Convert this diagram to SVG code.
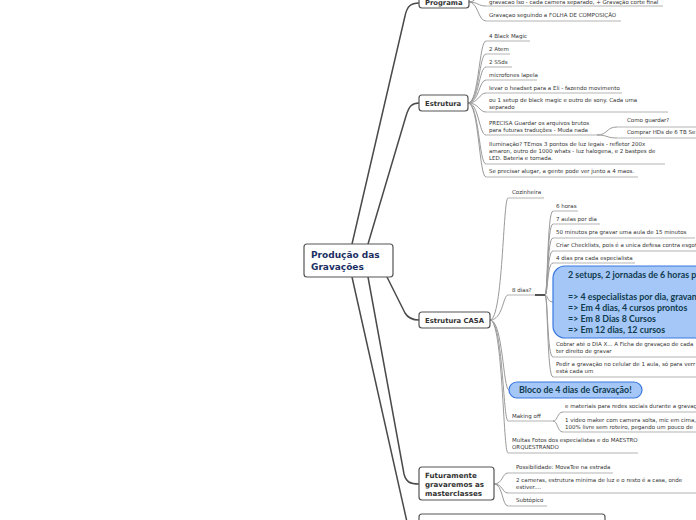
<svg xmlns="http://www.w3.org/2000/svg" width="696" height="520" viewBox="0 0 696 520">
<style>
.bg{fill:#ffffff}
.main{fill:none;stroke:#4a4a4a;stroke-width:1.5}
.fan{fill:none;stroke:#9a9a9a;stroke-width:1}
.ul{fill:none;stroke:#b4b4b4;stroke-width:1.2}
.box{fill:#ffffff;stroke:#555555;stroke-width:1.2}
.blue{fill:#a5c7f7;stroke:#3a78e0;stroke-width:1.2}
.t{font-family:"DejaVu Sans",Verdana,sans-serif;font-size:5.5px;fill:#333333}
.h{font-family:"DejaVu Sans",Verdana,sans-serif;font-size:6.8px;font-weight:bold;fill:#333333}
.c{font-family:"DejaVu Sans",Verdana,sans-serif;font-size:9px;font-weight:bold;fill:#1b2f63}
.b{font-family:Lato,"Open Sans",sans-serif;font-size:8.85px;font-weight:bold;fill:#0e3b4d}
</style>
<rect class="bg" x="0" y="0" width="696" height="520"/>
<g id="connectors">
<path class="main" d="M352,244 L405,16 C407,6 411,3 419,3"/>
<path class="main" d="M368,244 L406,116 C409,106 412,103 419,103"/>
<path class="main" d="M387,277 L405,313 C408,318 412,320 419,320"/>
<path class="main" d="M368,277 L404,474 C406,482 410,484 419,484"/>
<path class="main" d="M352,277 L407,522"/>
<path class="fan" d="M469,2 C478,2 478,-10 486,-10"/>
<path class="fan" d="M469,2 C478,2 478,6 486,6"/>
<path class="fan" d="M469,2 C478,2 478,21 486,21"/>
<path class="fan" d="M468,103 C479,103 479,41 486,41"/>
<path class="fan" d="M468,103 C479,103 479,54 486,54"/>
<path class="fan" d="M468,103 C479,103 479,67 486,67"/>
<path class="fan" d="M468,103 C479,103 479,80 486,80"/>
<path class="fan" d="M468,103 C479,103 479,93 486,93"/>
<path class="fan" d="M468,103 C479,103 479,112 486,112"/>
<path class="fan" d="M468,103 C479,103 479,135 486,135"/>
<path class="fan" d="M468,103 C479,103 479,164 486,164"/>
<path class="fan" d="M468,103 C479,103 479,177 486,177"/>
<path class="fan" d="M597,135 C608,135 606,127 617,127"/>
<path class="fan" d="M597,135 C608,135 606,138 617,138"/>
<path class="fan" d="M490,320 C503,320 503,198 508,198"/>
<path class="fan" d="M490,320 C503,320 503,295 508,295"/>
<path class="fan" d="M490,320 C503,320 503,390 509,390"/>
<path class="fan" d="M490,320 C503,320 503,421 508,421"/>
<path class="fan" d="M490,320 C503,320 503,453 508,453"/>
<path class="fan" d="M545,295 C548,295 547,211 553,211"/>
<path class="fan" d="M545,295 C548,295 547,224 553,224"/>
<path class="fan" d="M545,295 C548,295 547,238 553,238"/>
<path class="fan" d="M545,295 C548,295 547,251 553,251"/>
<path class="fan" d="M545,295 C548,295 547,263 553,263"/>
<path class="fan" d="M545,295 C548,295 547,302 553,302"/>
<path class="fan" d="M545,295 C548,295 547,357 553,357"/>
<path class="fan" d="M545,295 C548,295 547,377 553,377"/>
<path class="fan" d="M553,421 C558,421 557,412 563,412"/>
<path class="fan" d="M553,421 C558,421 557,432 563,432"/>
<path class="fan" d="M494,484 C503,484 502,473 508,473"/>
<path class="fan" d="M494,484 C503,484 502,493 508,493"/>
<path class="fan" d="M494,484 C503,484 502,506 508,506"/>
</g>
<g id="center">
<rect class="box" x="304" y="244" width="89" height="33" rx="3"/>
<text class="c" x="311" y="258">Produção das</text>
<text class="c" x="311" y="270">Gravações</text>
</g>
<g id="programa">
<rect class="box" x="419" y="-6" width="50" height="14" rx="3"/>
<text class="h" x="425" y="4.5">Programa</text>
<path class="ul" d="M486,6 H663 M486,21 H621"/>
<text class="t" x="489" y="3.5">gravacao Iso - cada camera separado, + Gravação corte final</text>
<text class="t" x="489" y="17">Gravaçao seguindo a FOLHA DE COMPOSIÇÃO</text>
</g>
<g id="estrutura">
<rect class="box" x="419" y="95" width="49" height="16" rx="3"/>
<text class="h" x="425" y="106">Estrutura</text>
<path class="ul" d="M486,41 H530 M486,54 H510 M486,67 H512 M486,80 H537 M486,93 H622 M486,112 H668 M486,135 H597 M617,127 H696 M617,138 H696 M486,164 H665 M486,177 H638"/>
<text class="t" x="489" y="38">4 Black Magic</text>
<text class="t" x="489" y="51">2 Atem</text>
<text class="t" x="489" y="64">2 SSds</text>
<text class="t" x="489" y="77">microfones lapela</text>
<text class="t" x="489" y="90">levar o headset para a Eli - fazendo movimento</text>
<text class="t" x="489" y="102">ou 1 setup de black magic e outro de sony. Cada uma</text>
<text class="t" x="489" y="108.5">separado</text>
<text class="t" x="489" y="125">PRECISA Guardar os arquivos brutos</text>
<text class="t" x="489" y="132">para futuras traduções - Muda nada</text>
<text class="t" x="627" y="122">Como guardar?</text>
<text class="t" x="627" y="134">Comprar HDs de 6 TB Se</text>
<text class="t" x="489" y="146">Iluminação? TEmos 3 pontos de luz legais - refletor 200x</text>
<text class="t" x="489" y="153">amaron, outro de 1000 whats - luz halogena, e 2 bastpes de</text>
<text class="t" x="489" y="160">LED. Bateria e tomada.</text>
<text class="t" x="489" y="173">Se precisar alugar, a gente pode ver junto a 4 maos.</text>
</g>
<g id="casa">
<rect class="box" x="419" y="312" width="71" height="16" rx="3"/>
<text class="h" x="425" y="323">Estrutura CASA</text>
<path class="ul" d="M508,198 H544 M508,295 H536 M553,211 H578 M553,224 H600 M553,238 H695 M553,251 H696 M553,263 H635 M553,357 H696 M553,377 H696 M508,421 H553 M563,412 H696 M563,432 H696 M508,453 H638"/>
<path d="M535,295 H545" stroke="#555555" stroke-width="2" fill="none"/>
<text class="t" x="512" y="194">Cozinheira</text>
<text class="t" x="512" y="292">8 dias?</text>
<text class="t" x="556" y="208">6 horas</text>
<text class="t" x="556" y="221">7 aulas por dia</text>
<text class="t" x="556" y="234">50 minutos pra gravar uma aula de 15 minutos</text>
<text class="t" x="556" y="247">Criar Checklists, pois é a unica defesa contra esgot</text>
<text class="t" x="556" y="260">4 dias pra cada especialista</text>
<rect class="blue" x="553" y="266" width="170" height="72" rx="12"/>
<text class="b" x="568" y="277.5">2 setups, 2 jornadas de 6 horas p</text>
<text class="b" x="568" y="300">=&gt; 4 especialistas por dia, gravan</text>
<text class="b" x="568" y="311">=&gt; Em 4 dias, 4 cursos prontos</text>
<text class="b" x="568" y="322">=&gt; Em 8 Dias 8 Cursos</text>
<text class="b" x="568" y="333">=&gt; Em 12 dias, 12 cursos</text>
<text class="t" x="556" y="346">Cobrar até o DIA X... A Ficha de gravaçao de cada</text>
<text class="t" x="556" y="353">ter direito de gravar</text>
<text class="t" x="556" y="366">Pedir a gravação no celular de 1 aula, só para verr</text>
<text class="t" x="556" y="372.5">está cada um</text>
<rect class="blue" x="509" y="382" width="133" height="16" rx="8"/>
<text class="b" x="519" y="393">Bloco de 4 dias de Gravação!</text>
<text class="t" x="512" y="418">Making off</text>
<text class="t" x="565" y="408">e materiais para redes sociais durante a gravaç</text>
<text class="t" x="565" y="422">1 video maker com camera solta, mic em cima,</text>
<text class="t" x="565" y="428.5">100% livre sem roteiro, pegando um pouco de</text>
<text class="t" x="512" y="442">Multas Fotos dos especialistas e do MAESTRO</text>
<text class="t" x="512" y="449">ORQUESTRANDO</text>
</g>
<g id="futuramente">
<rect class="box" x="419" y="467" width="75" height="33" rx="3"/>
<text class="h" x="425" y="477.5" style="font-size:7.1px">Futuramente</text>
<text class="h" x="425" y="486.5" style="font-size:7.1px">gravaremos as</text>
<text class="h" x="425" y="495.5" style="font-size:7.1px">masterclasses</text>
<path class="ul" d="M508,473 H613 M508,493 H696 M508,506 H547"/>
<text class="t" x="516" y="469">Possibilidade: MovaTee na estrada</text>
<text class="t" x="516" y="482">2 cameras, estrutura minima de luz e o resto é a casa, onde</text>
<text class="t" x="516" y="489">estiver....</text>
<text class="t" x="516" y="502">Subtópico</text>
</g>
<g id="bottom">
<rect class="box" x="419" y="514" width="186" height="20" rx="3"/>
</g>
</svg>
